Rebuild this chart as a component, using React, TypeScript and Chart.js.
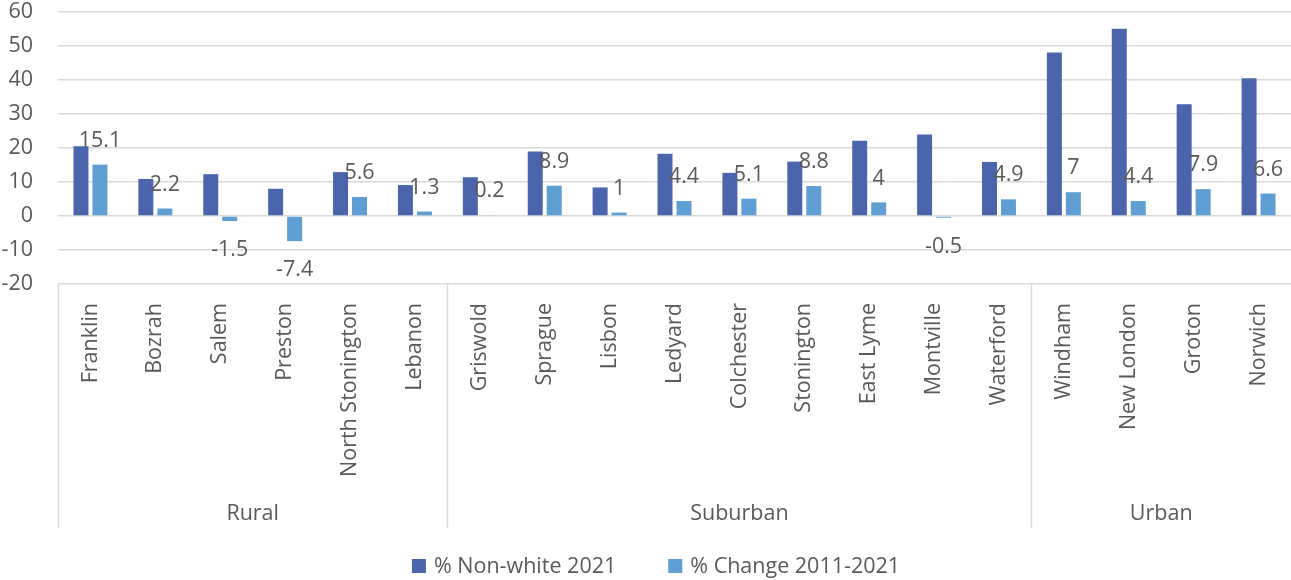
import { useEffect, useRef } from "react";
import { Chart, registerables } from "chart.js";

Chart.register(...registerables);

const towns = [
  "Franklin", "Bozrah", "Salem", "Preston", "North Stonington", "Lebanon",
  "Griswold", "Sprague", "Lisbon", "Ledyard", "Colchester", "Stonington",
  "East Lyme", "Montville", "Waterford",
  "Windham", "New London", "Groton", "Norwich",
];
const groupNames = ["Rural", "Suburban", "Urban"];
const groupSizes = [6, 9, 4];
const nonWhite2021 = [
  20.5, 10.9, 12.3, 8.0, 12.9, 9.1,
  11.4, 19.0, 8.4, 18.3, 12.7, 16.0, 22.1, 24.0, 15.9,
  48.1, 55.1, 32.9, 40.5,
];
const change2011to2021 = [
  15.1, 2.2, -1.5, -7.4, 5.6, 1.3,
  0.2, 8.9, 1, 4.4, 5.1, 8.8, 4, -0.5, 4.9,
  7, 4.4, 7.9, 6.6,
];
const seriesNames = ["% Non-white 2021", "% Change 2011-2021"];
const yMin = -20;
const yMax = 60;
const yStep = 10;

const DARK = "#4A65AC";
const LIGHT = "#5F9ED3";
const TEXT = "#595959";
const GRID = "#D9D9D9";
const FONT = '"Open Sans", sans-serif';
const FS = 21.5;

const excelPlugin = {
  id: "excelExtras",
  afterDatasetsDraw(chart: any) {
    const ctx = chart.ctx;
    const meta = chart.getDatasetMeta(1);
    ctx.save();
    ctx.fillStyle = TEXT;
    ctx.font = `${FS}px ${FONT}`;
    ctx.textAlign = "center";
    ctx.textBaseline = "middle";
    meta.data.forEach((el: any, i: number) => {
      const v = change2011to2021[i];
      const y = v >= 0 ? el.y - 24 : el.y + 29;
      ctx.fillText(String(v), el.x, y);
    });
    ctx.restore();
  },
  afterDraw(chart: any) {
    const ctx = chart.ctx;
    const xs = chart.scales.x;
    const top = chart.chartArea.bottom;
    const bottom = top + 244;
    const catW = (xs.right - xs.left) / towns.length;
    ctx.save();
    ctx.strokeStyle = GRID;
    ctx.lineWidth = 1.5;
    let k = 0;
    const bounds = [0];
    groupSizes.forEach((s) => { k += s; bounds.push(k); });
    bounds.slice(0, -1).forEach((b) => {
      const x = Math.round(xs.left + b * catW) + 0.5;
      ctx.beginPath();
      ctx.moveTo(x, top);
      ctx.lineTo(x, bottom);
      ctx.stroke();
    });
    ctx.fillStyle = TEXT;
    ctx.font = `${FS}px ${FONT}`;
    ctx.textAlign = "center";
    ctx.textBaseline = "middle";
    groupNames.forEach((g, i) => {
      const cx = xs.left + ((bounds[i] + bounds[i + 1]) / 2) * catW;
      ctx.fillText(g, cx, top + 230);
    });
    // legend
    const colors = [DARK, LIGHT];
    const box = 14;
    const gapText = 8;
    const gapItem = 52;
    const widths = seriesNames.map((n) => ctx.measureText(n).width);
    const total = widths.reduce((a, w) => a + box + gapText + w, 0) + gapItem;
    let x = 656 - total / 2;
    const ly = 566;
    ctx.textAlign = "left";
    seriesNames.forEach((n, i) => {
      ctx.fillStyle = colors[i];
      ctx.fillRect(x, ly - box / 2, box, box);
      x += box + gapText;
      ctx.fillStyle = TEXT;
      ctx.fillText(n, x, ly + 1);
      x += widths[i] + gapItem;
    });
    ctx.restore();
  },
};

export default function App() {
  const ref = useRef<HTMLCanvasElement>(null);
  useEffect(() => {
    if (!ref.current) return;
    const chart = new Chart(ref.current, {
      type: "bar",
      data: {
        labels: towns,
        datasets: [
          {
            label: seriesNames[0],
            data: nonWhite2021,
            backgroundColor: DARK,
            categoryPercentage: 0.585,
            barPercentage: 0.79,
          },
          {
            label: seriesNames[1],
            data: change2011to2021,
            backgroundColor: LIGHT,
            categoryPercentage: 0.585,
            barPercentage: 0.79,
          },
        ],
      },
      options: {
        animation: false,
        responsive: false,
        devicePixelRatio: 1,
        layout: { padding: { top: 12, right: 0, bottom: 52, left: 0 } },
        plugins: {
          legend: { display: false },
          tooltip: { enabled: false },
        },
        scales: {
          x: {
            grid: { display: false, drawTicks: false },
            border: { display: false },
            ticks: {
              color: TEXT,
              font: { family: FONT, size: FS },
              minRotation: 90,
              maxRotation: 90,
              autoSkip: false,
              padding: 19,
            },
            afterFit: (s: any) => {
              s.height = 244;
              s.paddingLeft = 0;
              s.paddingRight = 0;
              s.paddingTop = 0;
              s.paddingBottom = 0;
            },
          },
          y: {
            min: yMin,
            max: yMax,
            grid: { color: GRID, lineWidth: 1.5, drawTicks: false },
            border: { display: false },
            ticks: {
              stepSize: yStep,
              color: TEXT,
              font: { family: FONT, size: FS },
              padding: 25,
            },
            afterFit: (s: any) => {
              s.width = 58;
              s.paddingTop = 0;
              s.paddingBottom = 0;
              s.paddingLeft = 0;
              s.paddingRight = 0;
            },
          },
        },
      },
      plugins: [excelPlugin],
    });
    return () => chart.destroy();
  }, []);
  return (
    <div style={{ position: "absolute", left: 0, top: 0, width: 1291, height: 580, background: "#fff" }}>
      <canvas ref={ref} width={1291} height={580} />
    </div>
  );
}
